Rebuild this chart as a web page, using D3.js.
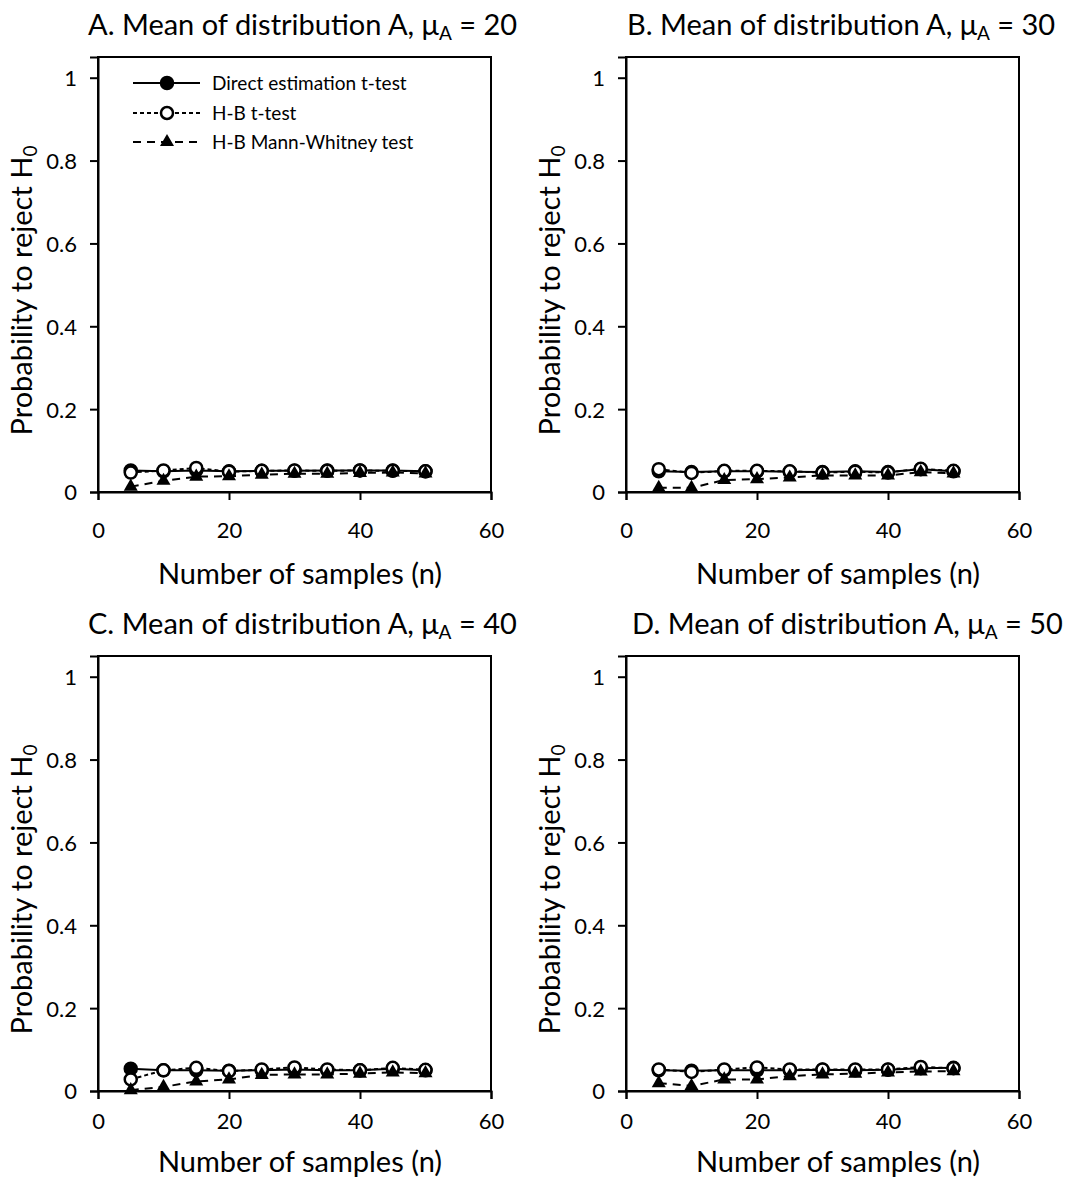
<!DOCTYPE html>
<html>
<head>
<meta charset="utf-8">
<script src="https://cdn.jsdelivr.net/npm/d3@7"></script>
<style>
  html, body { margin: 0; padding: 0; background: #fff; }
  svg { display: block; }
  text { font-family: Lato, "Open Sans", sans-serif; fill: #000; }
</style>
</head>
<body>
<svg id="chart" width="1068" height="1191"></svg>
<script>
// ---------- DATA ----------
const nValues = [5, 10, 15, 20, 25, 30, 35, 40, 45, 50];
const panelLetters = ["A", "B", "C", "D"];
const muValues = [20, 30, 40, 50];
const seriesNames = ["Direct estimation t-test", "H-B t-test", "H-B Mann-Whitney test"];

const directA = [0.052, 0.050, 0.052, 0.050, 0.051, 0.051, 0.052, 0.052, 0.052, 0.050];
const hbtA    = [0.047, 0.052, 0.058, 0.049, 0.051, 0.052, 0.051, 0.052, 0.051, 0.050];
const mwA     = [0.013, 0.027, 0.037, 0.038, 0.042, 0.044, 0.044, 0.046, 0.047, 0.045];

const directB = [0.050, 0.048, 0.050, 0.050, 0.049, 0.048, 0.050, 0.048, 0.055, 0.050];
const hbtB    = [0.055, 0.046, 0.051, 0.051, 0.050, 0.047, 0.049, 0.047, 0.056, 0.051];
const mwB     = [0.010, 0.010, 0.029, 0.031, 0.035, 0.040, 0.040, 0.040, 0.048, 0.045];

const directC = [0.054, 0.050, 0.050, 0.049, 0.050, 0.052, 0.050, 0.050, 0.054, 0.050];
const hbtC    = [0.028, 0.050, 0.056, 0.048, 0.052, 0.057, 0.052, 0.050, 0.056, 0.051];
const mwC     = [0.002, 0.010, 0.023, 0.028, 0.039, 0.040, 0.040, 0.042, 0.045, 0.043];

const directD = [0.050, 0.049, 0.050, 0.050, 0.050, 0.051, 0.050, 0.051, 0.055, 0.056];
const hbtD    = [0.052, 0.046, 0.052, 0.057, 0.052, 0.052, 0.052, 0.052, 0.058, 0.055];
const mwD     = [0.019, 0.012, 0.028, 0.028, 0.036, 0.040, 0.042, 0.045, 0.047, 0.048];

const xTicks = [0, 20, 40, 60];
const yTicks = [0, 0.2, 0.4, 0.6, 0.8, 1];
const xLabel = "Number of samples (n)";

// ---------- LAYOUT ----------
const panels = [
  { letter: panelLetters[0], mu: muValues[0], series: [directA, hbtA, mwA], left: 98,  top: 57,  bottom: 492, titleX: 88,  tickOff: 46, labOff: 92, labX: 300, legend: true },
  { letter: panelLetters[1], mu: muValues[1], series: [directB, hbtB, mwB], left: 626, top: 57,  bottom: 492, titleX: 627, tickOff: 46, labOff: 92, labX: 838 },
  { letter: panelLetters[2], mu: muValues[2], series: [directC, hbtC, mwC], left: 98,  top: 656, bottom: 1091, titleX: 88,  tickOff: 38, labOff: 81, labX: 300 },
  { letter: panelLetters[3], mu: muValues[3], series: [directD, hbtD, mwD], left: 626, top: 656, bottom: 1091, titleX: 632, tickOff: 38, labOff: 81, labX: 838 }
];
const plotW = 393;
const bigFont = 29;
const tickFont = 22;

const styles = [
  { dash: null,  marker: "circleFilled" },
  { dash: "4,3", marker: "circleOpen" },
  { dash: "8,6", marker: "triangle" }
];

const svg = d3.select("#chart");

function drawMarker(g, type, x, y) {
  if (type === "triangle") {
    const sym = d3.symbol().type(d3.symbolTriangle).size(85);
    g.append("path").attr("d", sym).attr("transform", `translate(${x},${y})`).attr("fill", "#000");
  } else {
    g.append("circle").attr("cx", x).attr("cy", y).attr("r", 6)
      .attr("fill", type === "circleFilled" ? "#000" : "#fff")
      .attr("stroke", "#000").attr("stroke-width", 2.5);
  }
}

panels.forEach(p => {
  const x = d3.scaleLinear().domain([0, 60]).range([p.left, p.left + plotW]);
  const y = d3.scaleLinear().domain([0, 1.05]).range([p.bottom, p.top]);
  const g = svg.append("g");

  // frame
  g.append("rect").attr("x", p.left).attr("y", p.top)
    .attr("width", plotW).attr("height", p.bottom - p.top)
    .attr("fill", "none").attr("stroke", "#000").attr("stroke-width", 2);

  // x axis
  const xa = g.append("g").attr("transform", `translate(0,${p.bottom})`)
    .call(d3.axisBottom(x).tickValues(xTicks).tickSize(8).tickFormat(d3.format("d")));
  xa.select(".domain").attr("stroke-width", 2);
  xa.selectAll(".tick line").attr("stroke-width", 2);
  xa.selectAll(".tick text").attr("y", p.tickOff).attr("dy", 0)
    .style("font-size", tickFont + "px").style("font-family", "Lato, sans-serif");

  // y axis
  const ya = g.append("g").attr("transform", `translate(${p.left},0)`)
    .call(d3.axisLeft(y).tickValues(yTicks).tickSize(8).tickPadding(13)
      .tickFormat(d => d === 0 ? "0" : (d === 1 ? "1" : d3.format(".1f")(d))));
  ya.select(".domain").attr("stroke-width", 2);
  ya.selectAll(".tick line").attr("stroke-width", 2);
  ya.selectAll(".tick text").attr("dy", "0.36em")
    .style("font-size", tickFont + "px").style("font-family", "Lato, sans-serif");

  // title
  const t = g.append("text").attr("x", p.titleX).attr("y", p.top - 22)
    .style("font-size", bigFont + "px");
  t.append("tspan").text(`${p.letter}. Mean of distribution A, μ`);
  t.append("tspan").attr("dy", 5).style("font-size", "19px").text("A");
  t.append("tspan").attr("dy", -5).text(` = ${p.mu}`);

  // x label
  g.append("text").attr("x", p.labX).attr("y", p.bottom + p.labOff)
    .attr("text-anchor", "middle").style("font-size", bigFont + "px").text(xLabel);

  // y label
  const yl = g.append("text")
    .attr("transform", `translate(${p.left - 66},${(p.top + p.bottom) / 2 + 16}) rotate(-90)`)
    .attr("text-anchor", "middle").style("font-size", bigFont + "px");
  yl.append("tspan").text("Probability to reject H");
  yl.append("tspan").attr("dy", 5).style("font-size", "19px").text("0");

  // series
  p.series.forEach((vals, si) => {
    const data = nValues.map((n, i) => [n, vals[i]]);
    const line = d3.line().x(d => x(d[0])).y(d => y(d[1]));
    g.append("path").datum(data).attr("d", line).attr("fill", "none")
      .attr("stroke", "#000").attr("stroke-width", 2)
      .attr("stroke-dasharray", styles[si].dash);
    const mg = g.append("g");
    data.forEach(d => drawMarker(mg, styles[si].marker, x(d[0]), y(d[1])));
  });

  // legend
  if (p.legend) {
    const lg = g.append("g");
    const rows = [83, 113, 142];
    seriesNames.forEach((name, si) => {
      lg.append("line").attr("x1", 133).attr("x2", 200).attr("y1", rows[si]).attr("y2", rows[si])
        .attr("stroke", "#000").attr("stroke-width", 2).attr("stroke-dasharray", styles[si].dash);
      drawMarker(lg, styles[si].marker, 167, rows[si]);
      lg.append("text").attr("x", 212).attr("y", rows[si]).attr("dy", "0.35em")
        .style("font-size", "19px").text(name);
    });
  }
});
</script>
</body>
</html>
